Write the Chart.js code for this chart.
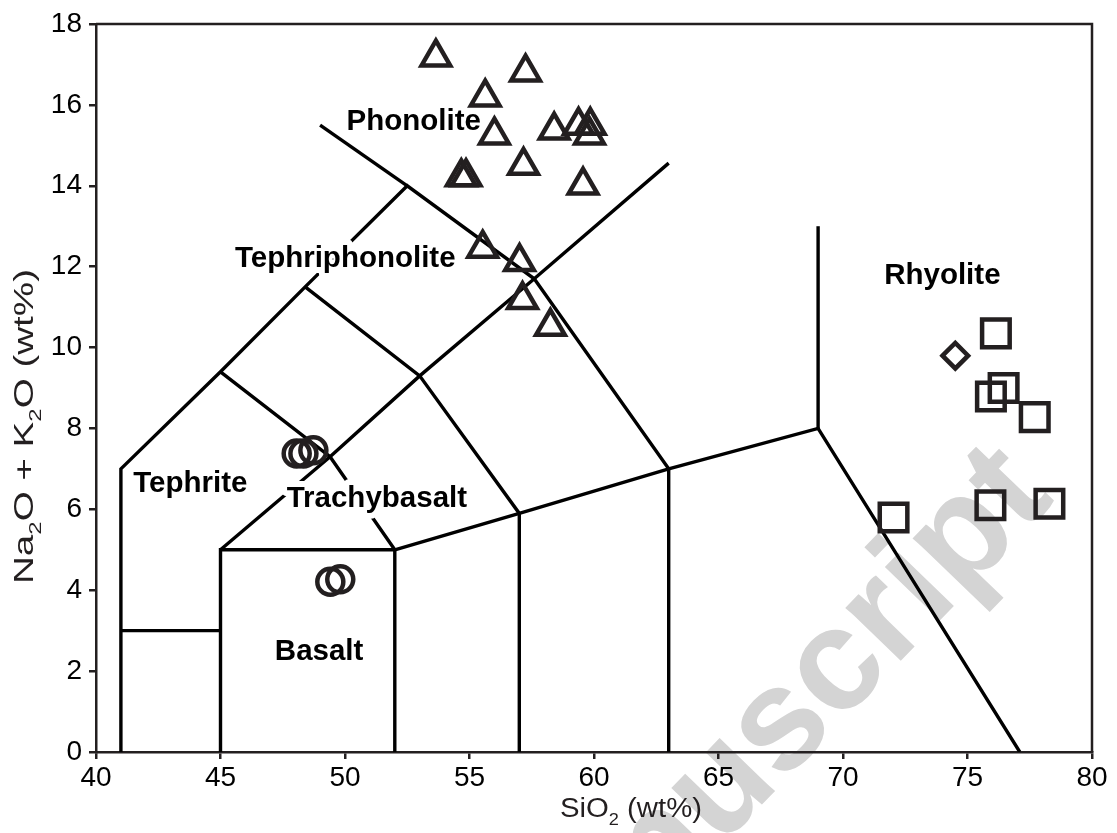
<!DOCTYPE html>
<html>
<head>
<meta charset="utf-8">
<script src="https://cdn.jsdelivr.net/npm/chart.js@4.4.0/dist/chart.umd.min.js"></script>
<style>
  html, body { margin: 0; padding: 0; background: #fff; }
  canvas { display: block; }
</style>
</head>
<body>
<canvas id="tasChart" width="1117" height="833"></canvas>
<script>
// axis ticks
const siTicks = [40, 45, 50, 55, 60, 65, 70, 75, 80];
const alkTicks = [0, 2, 4, 6, 8, 10, 12, 14, 16, 18];

// samples (SiO2, Na2O+K2O)
const triSiO2 = [53.65, 57.25, 55.63, 56.0, 58.4, 59.38, 59.85, 59.82, 57.17, 54.67, 54.86, 59.56, 55.53, 57.01, 57.13, 58.25];
const triAlk  = [17.18, 16.81, 16.19, 15.25, 15.37, 15.49, 15.49, 15.25, 14.5, 14.22, 14.22, 14.01, 12.45, 12.12, 11.18, 10.52];
const circSiO2 = [48.06, 48.33, 48.73, 49.41, 49.81];
const circAlk  = [7.38, 7.38, 7.46, 4.21, 4.27];
const sqSiO2 = [76.14, 75.94, 76.45, 77.7, 75.92, 78.29, 72.03];
const sqAlk  = [10.35, 8.79, 9.0, 8.28, 6.10, 6.14, 5.80];
const diaSiO2 = [74.51];
const diaAlk  = [9.8];

// TAS field boundaries
const tasLines = [
  [[41, 0], [41, 7], [45, 9.4], [48.4, 11.5], [52.5, 14], [57.6, 11.7], [63, 7], [63, 0]],
  [[49, 15.5], [52.5, 14]],
  [[41, 3], [45, 3]],
  [[45, 0], [45, 5], [52, 5], [52, 0]],
  [[45, 5], [49.4, 7.3], [53, 9.3], [57.6, 11.7], [63, 14.56]],
  [[45, 9.4], [49.4, 7.3], [52, 5]],
  [[48.4, 11.5], [53, 9.3], [57, 5.9], [57, 0]],
  [[52, 5], [57, 5.9], [63, 7], [69, 8], [77.1, 0]],
  [[69, 8], [69, 13]]
];

// field names
const fieldNames = ['Phonolite', 'Tephriphonolite', 'Tephrite', 'Trachybasalt', 'Basalt', 'Rhyolite'];
const fieldSiO2 = [52.76, 50.01, 43.79, 51.28, 48.96, 73.99];
const fieldAlk  = [15.59, 12.19, 6.64, 6.27, 2.48, 11.77];

const ink = '#231f20';
const fam = '"Liberation Sans", Arial, Helvetica, sans-serif';

function pts(xs, ys) {
  return xs.map((x, i) => ({ x: x, y: ys[i] }));
}

function marker(xs, ys, style, r) {
  return {
    data: pts(xs, ys),
    pointStyle: style,
    pointRadius: r,
    pointBorderWidth: 4.5,
    pointBorderColor: ink,
    pointBackgroundColor: 'rgba(0,0,0,0)',
    showLine: false,
    order: 0
  };
}

const datasets = [
  marker(triSiO2, triAlk, 'triangle', 16.5),
  marker(circSiO2, circAlk, 'circle', 13),
  marker(sqSiO2, sqAlk, 'rect', 19.5),
  marker(diaSiO2, diaAlk, 'rectRot', 12.8)
];
tasLines.forEach(line => {
  datasets.push({
    data: line.map(p => ({ x: p[0], y: p[1] })),
    showLine: true,
    borderColor: '#000',
    borderWidth: 3.4,
    pointRadius: 0,
    tension: 0,
    order: 5
  });
});

// text with subscripts, drawn at baseline starting at 0,0
function richWidth(ctx, parts, size) {
  let w = 0;
  parts.forEach(p => {
    ctx.font = (p.sub ? size * 0.62 : size) + 'px ' + fam;
    w += ctx.measureText(p.t).width;
  });
  return w;
}
function drawRich(ctx, parts, size) {
  let x = 0;
  parts.forEach(p => {
    ctx.font = (p.sub ? size * 0.62 : size) + 'px ' + fam;
    ctx.fillText(p.t, x, p.sub ? size * 0.3 : 0);
    x += ctx.measureText(p.t).width;
  });
}

const xTitle = [{ t: 'SiO' }, { t: '2', sub: true }, { t: ' (wt%)' }];
const yTitle = [{ t: 'Na' }, { t: '2', sub: true }, { t: 'O + K' }, { t: '2', sub: true }, { t: 'O (wt%)' }];

const tasDecor = {
  id: 'tasDecor',
  beforeDraw(chart) {
    const ctx = chart.ctx;
    ctx.save();
    ctx.fillStyle = '#fff';
    ctx.fillRect(0, 0, chart.width, chart.height);
    // watermark
    ctx.translate(1056, 500);
    ctx.rotate(-46 * Math.PI / 180);
    ctx.font = 'bold 145px ' + fam;
    ctx.fillStyle = '#d4d4d4';
    ctx.textAlign = 'right';
    ctx.textBaseline = 'alphabetic';
    ctx.fillText('manuscript', 0, 0);
    ctx.restore();
  },
  beforeDatasetsDraw(chart) {
    const ctx = chart.ctx;
    const a = chart.chartArea;
    ctx.save();
    ctx.strokeStyle = ink;
    ctx.lineWidth = 2.5;
    ctx.beginPath();
    ctx.moveTo(a.left, a.top);
    ctx.lineTo(a.right, a.top);
    ctx.lineTo(a.right, a.bottom);
    ctx.stroke();
    ctx.restore();
    this._labelsDone = false;
  },
  beforeDatasetDraw(chart, args) {
    if (this._labelsDone || args.meta._dataset.order !== 0) return;
    this._labelsDone = true;
    const ctx = chart.ctx;
    const xs = chart.scales.x, ys = chart.scales.y;
    ctx.save();
    ctx.font = 'bold 29.5px ' + fam;
    ctx.textAlign = 'center';
    ctx.textBaseline = 'middle';
    ctx.lineJoin = 'round';
    ctx.lineWidth = 12;
    ctx.strokeStyle = '#fff';
    fieldNames.forEach((name, i) => {
      const px = xs.getPixelForValue(fieldSiO2[i]);
      const py = ys.getPixelForValue(fieldAlk[i]);
      ctx.strokeText(name, px, py);
      ctx.fillStyle = '#000';
      ctx.fillText(name, px, py);
    });
    ctx.restore();
  },
  afterDraw(chart) {
    const ctx = chart.ctx;
    ctx.save();
    ctx.fillStyle = ink;
    ctx.textAlign = 'left';
    ctx.textBaseline = 'alphabetic';
    // x title
    let size = 27;
    let w = richWidth(ctx, xTitle, size);
    ctx.save();
    ctx.translate(560, 817);
    ctx.scale(142 / w, 1);
    drawRich(ctx, xTitle, size);
    ctx.restore();
    // y title
    size = 28;
    w = richWidth(ctx, yTitle, size);
    ctx.save();
    ctx.translate(33, 584);
    ctx.rotate(-Math.PI / 2);
    ctx.scale(315 / w, 1);
    drawRich(ctx, yTitle, size);
    ctx.restore();
    ctx.restore();
  }
};

const axisCommon = {
  type: 'linear',
  grid: { drawOnChartArea: false, drawTicks: true, tickLength: 7, color: ink, lineWidth: 2.5 },
  border: { display: true, color: ink, width: 2.5 },
  title: { display: false }
};

new Chart(document.getElementById('tasChart'), {
  type: 'scatter',
  data: { datasets: datasets },
  options: {
    responsive: false,
    animation: false,
    devicePixelRatio: 1,
    events: [],
    layout: { padding: { top: 22, right: 25, left: 0, bottom: 0 } },
    plugins: { legend: { display: false }, tooltip: { enabled: false } },
    scales: {
      x: Object.assign({}, axisCommon, {
        position: 'bottom',
        min: 40, max: 80,
        afterBuildTicks: s => { s.ticks = siTicks.map(v => ({ value: v })); },
        afterFit: s => { s.height = 81; },
        ticks: { font: { size: 28, family: fam }, color: '#000', padding: 2, maxRotation: 0, autoSkip: false }
      }),
      y: Object.assign({}, axisCommon, {
        position: 'left',
        min: 0, max: 18,
        afterBuildTicks: s => { s.ticks = alkTicks.map(v => ({ value: v })); },
        afterFit: s => { s.width = 96; },
        ticks: { font: { size: 28, family: fam }, color: '#000', padding: 7, autoSkip: false }
      })
    }
  },
  plugins: [tasDecor]
});
</script>
</body>
</html>
